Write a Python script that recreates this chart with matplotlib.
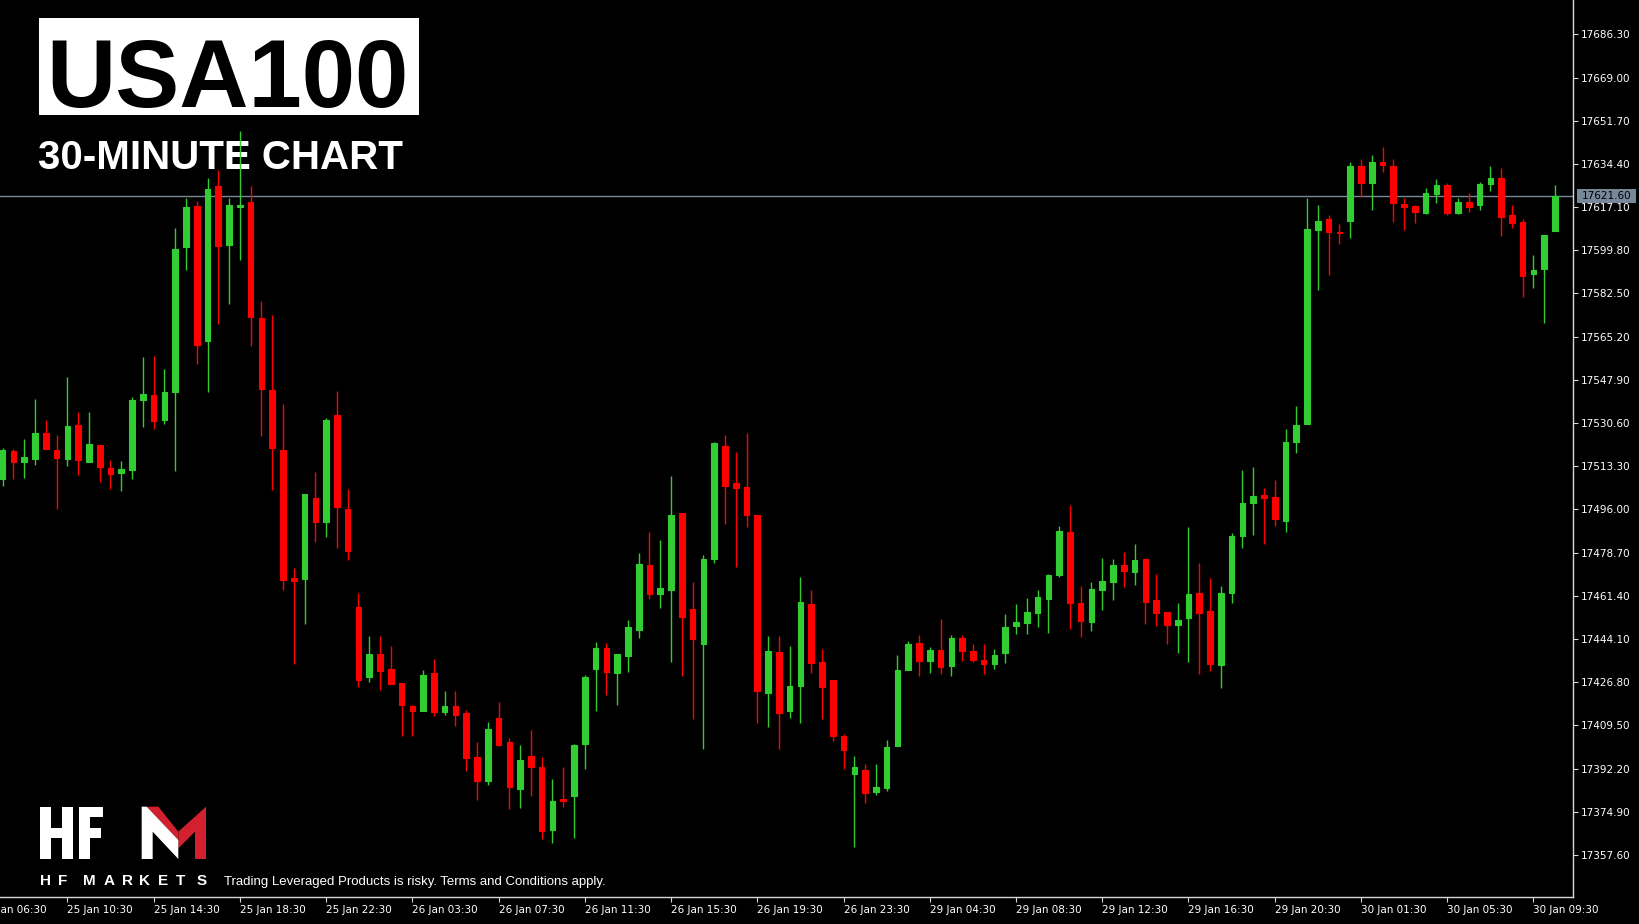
import matplotlib
matplotlib.use("Agg")
import matplotlib.pyplot as plt
from matplotlib.patches import Rectangle, Polygon
from matplotlib.transforms import blended_transform_factory
import numpy as np

# USA100, 30 minute bars, oldest first
opens = [
    17508.3, 17519.3, 17515.1, 17516.4, 17526.7, 17519.7, 17516.4, 17530.0, 17515.1, 17521.9,
    17512.8, 17510.8, 17511.8, 17540.0, 17541.9, 17531.9, 17543.2, 17601.1, 17617.5, 17563.6,
    17625.5, 17601.9, 17617.2, 17619.1, 17572.8, 17544.0, 17519.7, 17468.5, 17468.2, 17500.4,
    17491.0, 17533.9, 17496.1, 17457.1, 17428.8, 17438.3, 17432.3, 17426.4, 17417.2, 17415.3,
    17430.7, 17414.8, 17417.2, 17414.5, 17396.7, 17387.3, 17412.3, 17402.7, 17384.0, 17397.2,
    17392.9, 17367.8, 17380.0, 17381.3, 17401.9, 17432.0, 17440.4, 17430.4, 17437.4, 17447.8,
    17473.8, 17462.3, 17463.8, 17494.4, 17456.1, 17442.3, 17476.2, 17521.4, 17506.8, 17505.2,
    17493.8, 17422.7, 17438.8, 17415.3, 17425.4, 17458.2, 17435.0, 17427.9, 17405.2, 17389.9,
    17391.8, 17382.8, 17384.4, 17401.1, 17431.9, 17442.5, 17435.2, 17439.8, 17433.5, 17444.6,
    17439.3, 17435.7, 17434.1, 17438.4, 17449.3, 17450.4, 17454.6, 17460.0, 17469.6, 17486.8,
    17458.6, 17450.9, 17463.9, 17467.0, 17473.8, 17470.8, 17476.0, 17459.7, 17455.0, 17449.9,
    17452.4, 17462.5, 17455.4, 17433.6, 17462.4, 17485.5, 17498.4, 17501.9, 17500.9, 17491.4,
    17523.1, 17530.1, 17608.0, 17612.4, 17607.3, 17611.7, 17633.6, 17626.8, 17635.1, 17633.6,
    17618.5, 17617.5, 17614.8, 17622.5, 17625.9, 17614.8, 17619.0, 17618.1, 17626.2, 17628.7,
    17614.1, 17611.0, 17590.2, 17592.3, 17607.4,
]
highs = [
    17520.7, 17520.4, 17524.3, 17540.3, 17531.7, 17525.7, 17548.9, 17534.9, 17534.9, 17521.9,
    17516.0, 17515.4, 17540.9, 17557.0, 17557.6, 17552.2, 17608.8, 17620.7, 17619.4, 17628.8,
    17632.0, 17620.8, 17647.7, 17625.5, 17579.6, 17573.8, 17538.2, 17472.4, 17502.0, 17511.1,
    17532.7, 17543.4, 17504.3, 17462.5, 17445.2, 17445.2, 17441.5, 17426.4, 17417.7, 17431.9,
    17436.2, 17423.2, 17423.2, 17415.6, 17402.8, 17410.8, 17418.9, 17404.4, 17401.6, 17407.6,
    17396.7, 17388.2, 17392.9, 17402.1, 17429.6, 17443.1, 17442.7, 17438.2, 17451.8, 17478.7,
    17486.9, 17483.6, 17509.5, 17494.4, 17467.0, 17477.7, 17523.1, 17525.8, 17519.1, 17526.7,
    17493.8, 17445.3, 17445.3, 17441.4, 17468.9, 17463.6, 17440.0, 17427.9, 17405.9, 17397.2,
    17394.0, 17394.0, 17403.6, 17437.7, 17443.2, 17445.8, 17440.9, 17452.2, 17445.8, 17445.8,
    17442.1, 17442.1, 17440.0, 17454.0, 17458.2, 17460.4, 17463.6, 17470.1, 17489.5, 17497.6,
    17465.3, 17466.9, 17476.6, 17476.0, 17478.8, 17482.1, 17476.0, 17470.2, 17455.0, 17458.4,
    17489.0, 17474.4, 17468.4, 17465.2, 17486.5, 17511.7, 17512.9, 17504.7, 17508.0, 17528.3,
    17537.6, 17620.7, 17617.9, 17614.1, 17610.4, 17635.3, 17636.4, 17637.9, 17641.3, 17636.4,
    17620.7, 17617.9, 17624.6, 17628.4, 17626.7, 17620.6, 17622.8, 17627.3, 17633.6, 17632.7,
    17617.9, 17612.3, 17598.1, 17606.1, 17626.1,
]
lows = [
    17505.4, 17508.3, 17508.7, 17514.0, 17520.1, 17496.3, 17513.6, 17509.7, 17515.1, 17507.1,
    17504.4, 17503.3, 17508.1, 17529.1, 17528.1, 17530.3, 17511.3, 17591.8, 17554.3, 17543.2,
    17570.2, 17578.2, 17596.1, 17561.5, 17525.3, 17503.8, 17463.8, 17434.2, 17450.3, 17482.8,
    17484.9, 17480.7, 17475.8, 17425.0, 17427.1, 17423.9, 17426.0, 17405.1, 17405.1, 17415.3,
    17413.1, 17413.7, 17409.3, 17391.4, 17379.7, 17385.6, 17401.3, 17376.0, 17376.4, 17381.3,
    17363.9, 17362.3, 17377.0, 17364.6, 17392.1, 17415.2, 17421.7, 17417.5, 17430.8, 17444.4,
    17460.1, 17456.7, 17435.1, 17429.4, 17412.0, 17400.1, 17474.7, 17490.2, 17472.9, 17488.9,
    17410.3, 17408.7, 17400.0, 17412.6, 17410.3, 17430.7, 17411.9, 17403.2, 17391.9, 17360.7,
    17378.4, 17381.8, 17383.4, 17401.1, 17431.9, 17429.5, 17430.7, 17430.3, 17429.3, 17435.2,
    17435.0, 17430.3, 17432.3, 17434.6, 17446.0, 17446.0, 17449.0, 17446.4, 17469.1, 17448.1,
    17444.8, 17447.4, 17455.7, 17459.9, 17464.9, 17465.9, 17450.2, 17449.2, 17442.1, 17438.4,
    17435.1, 17430.2, 17431.4, 17424.4, 17458.4, 17480.6, 17485.9, 17482.2, 17489.5, 17487.0,
    17518.8, 17530.1, 17584.0, 17590.1, 17602.4, 17604.6, 17621.3, 17616.0, 17631.0, 17611.0,
    17608.0, 17610.7, 17614.2, 17618.8, 17613.9, 17614.2, 17615.0, 17616.0, 17623.4, 17605.6,
    17608.9, 17581.0, 17584.6, 17570.7, 17607.4,
]
closes = [
    17519.7, 17515.1, 17517.1, 17526.7, 17520.1, 17516.8, 17529.4, 17515.7, 17522.4, 17513.1,
    17510.4, 17512.3, 17539.7, 17542.4, 17531.4, 17542.9, 17600.2, 17617.0, 17562.0, 17624.5,
    17601.5, 17618.1, 17618.0, 17573.1, 17544.4, 17520.7, 17467.6, 17467.2, 17502.0, 17491.0,
    17531.7, 17497.0, 17479.5, 17427.8, 17438.3, 17431.5, 17426.0, 17417.5, 17415.3, 17429.6,
    17414.7, 17417.2, 17413.7, 17396.4, 17387.3, 17408.0, 17401.7, 17384.8, 17395.7, 17392.8,
    17367.3, 17379.4, 17379.2, 17401.6, 17429.1, 17440.4, 17431.0, 17438.2, 17449.0, 17474.3,
    17462.3, 17464.7, 17493.8, 17453.0, 17444.0, 17476.1, 17522.5, 17505.4, 17504.7, 17493.9,
    17423.3, 17439.3, 17414.6, 17425.3, 17458.8, 17434.6, 17424.9, 17405.4, 17399.5, 17392.8,
    17382.3, 17384.8, 17401.0, 17431.8, 17442.0, 17435.2, 17439.8, 17432.9, 17444.6, 17439.4,
    17435.7, 17434.2, 17437.7, 17449.0, 17450.8, 17454.9, 17460.9, 17469.6, 17487.3, 17458.4,
    17451.3, 17464.1, 17467.4, 17473.9, 17471.4, 17475.6, 17458.8, 17454.7, 17449.9, 17451.7,
    17462.1, 17454.7, 17434.2, 17462.5, 17485.2, 17498.7, 17501.3, 17500.4, 17492.0, 17523.0,
    17529.9, 17608.3, 17611.4, 17607.3, 17606.8, 17633.6, 17626.8, 17635.1, 17633.8, 17618.7,
    17617.0, 17615.0, 17622.8, 17625.9, 17614.9, 17619.0, 17617.0, 17626.5, 17628.7, 17613.2,
    17610.7, 17589.5, 17592.1, 17606.1, 17621.6,
]

last_price = 17621.60

price_ticks = [17357.60, 17374.90, 17392.20, 17409.50, 17426.80, 17444.10, 17461.40,
               17478.70, 17496.00, 17513.30, 17530.60, 17547.90, 17565.20, 17582.50,
               17599.80, 17617.10, 17634.40, 17651.70, 17669.00, 17686.30]

# bar index each time label belongs to (every 8 bars)
date_bars = [-2, 6, 14, 22, 30, 38, 46, 54, 62, 70, 78, 86, 94, 102, 110, 118, 126, 134, 142]
date_labels = ["25 Jan 06:30", "25 Jan 10:30", "25 Jan 14:30", "25 Jan 18:30", "25 Jan 22:30",
               "26 Jan 03:30", "26 Jan 07:30", "26 Jan 11:30", "26 Jan 15:30", "26 Jan 19:30",
               "26 Jan 23:30", "29 Jan 04:30", "29 Jan 08:30", "29 Jan 12:30", "29 Jan 16:30",
               "29 Jan 20:30", "30 Jan 01:30", "30 Jan 05:30", "30 Jan 09:30"]

W, H = 1640, 924
BULL, BEAR = "#32cd32", "#ff0000"
AXIS_COL = "#d8d8d8"

fig = plt.figure(figsize=(W / 100, H / 100), dpi=100, facecolor="black")

# overlay in pixel coords for the branding
ov = fig.add_axes([0, 0, 1, 1], zorder=0)
ov.set_xlim(0, W)
ov.set_ylim(H, 0)
ov.axis("off")

ax = fig.add_axes([0, 27 / H, 1573 / W, 897 / H], zorder=1)
ax.set_facecolor("none")

o = np.array(opens)
hi = np.array(highs)
lo = np.array(lows)
c = np.array(closes)
x = np.arange(len(o))
cols = np.where(c >= o, BULL, BEAR)

ax.axhline(last_price, color="#778899", linewidth=1.0, zorder=1)
ax.vlines(x, lo, hi, colors=cols, linewidth=1.0, zorder=2)
ax.bar(x, np.abs(c - o), bottom=np.minimum(o, c), width=0.52, color=cols,
       edgecolor=cols, linewidth=0.8, zorder=3)

ax.set_xlim(-0.25, 145.67)
ax.set_ylim(17340.8, 17700.04)

for s in ["top", "left"]:
    ax.spines[s].set_visible(False)
for s in ["right", "bottom"]:
    ax.spines[s].set_color(AXIS_COL)
    ax.spines[s].set_linewidth(1.0)

ax.yaxis.tick_right()
ax.set_yticks(price_ticks)
ax.set_yticklabels([f"{v:.2f}" for v in price_ticks])
ax.tick_params(axis="y", color=AXIS_COL, labelcolor="white", length=3.6, width=0.8,
               pad=2, labelsize=7.5)

ax.set_xticks(date_bars[1:])
ax.set_xticklabels(date_labels[1:], ha="left")
ax.tick_params(axis="x", color=AXIS_COL, labelcolor="white", length=3.6, width=0.8,
               pad=2, labelsize=7.5)
# first label sits left of the chart edge, only partly visible
ax.annotate(date_labels[0], xy=(date_bars[0], 0), xycoords=("data", "axes fraction"),
            xytext=(0, -5.6), textcoords="offset points", ha="left", va="top",
            color="white", fontsize=7.5, annotation_clip=False)

# current price tag on the price scale
tr = blended_transform_factory(ax.transAxes, ax.transData)
ppx = (17700.04 - 17340.8) / 897
ax.add_patch(Rectangle((1576.7 / 1573, last_price - 7.2 * ppx), (1636 - 1576.7) / 1573,
                       14.3 * ppx, transform=tr, facecolor="#778899", edgecolor="none",
                       clip_on=False, zorder=5))
ax.text(1581.5 / 1573, last_price, f"{last_price:.2f}", transform=tr, ha="left",
        va="center", fontsize=7.5, color="black", clip_on=False, zorder=6)

# title block
ov.add_patch(Rectangle((39.3, 18.3), 379.4, 96.7, facecolor="white", edgecolor="none"))
ov.text(46.5, 107, "USA100", fontsize=69, fontweight="bold", family="Liberation Sans",
        color="black", ha="left", va="baseline")
ov.text(38.5, 169.3, "30-MINUTE CHART", fontsize=29, fontweight="bold",
        family="Liberation Sans", color="white", ha="left", va="baseline")

# HFM logo
logo_red = "#d3202f"
for x0, y0, w, h in [(40, 806.7, 10.7, 52.3), (62.3, 806.7, 10.4, 52.3), (40, 827.7, 32.7, 10),
                     (79.3, 806.7, 10.7, 52.3), (79.3, 806.7, 24, 10.3), (79.3, 827.7, 21.7, 10)]:
    ov.add_patch(Rectangle((x0, y0), w, h, facecolor="white", edgecolor="none"))
ov.add_patch(Polygon([(178.33, 831.67), (206, 806.67), (206, 859), (195, 859),
                      (195, 831.67), (178.33, 848.33)], closed=True, facecolor=logo_red,
                     edgecolor="none"))
ov.add_patch(Polygon([(146.67, 806.67), (158.33, 806.67), (178.33, 831.67), (178.33, 840)],
                     closed=True, facecolor=logo_red, edgecolor="none"))
ov.add_patch(Polygon([(141.67, 806.67), (146.67, 806.67), (178.33, 840), (178.33, 859),
                      (152.67, 831.67), (152.67, 859), (141.67, 859)], closed=True,
                     facecolor="white", edgecolor="none"))
for letter, lx in zip("HFMARKETS", [40, 58.3, 83.3, 104, 121.7, 139.5, 157.7, 175.5, 197]):
    ov.text(lx, 885, letter, fontsize=11, fontweight="bold", family="Liberation Sans",
            color="white", ha="left", va="baseline")
ov.text(224, 885.5, "Trading Leveraged Products is risky. Terms and Conditions apply.",
        fontsize=9.5, family="Liberation Sans", color="white", ha="left", va="baseline")

fig.savefig("out.png", dpi=100, facecolor="black")
